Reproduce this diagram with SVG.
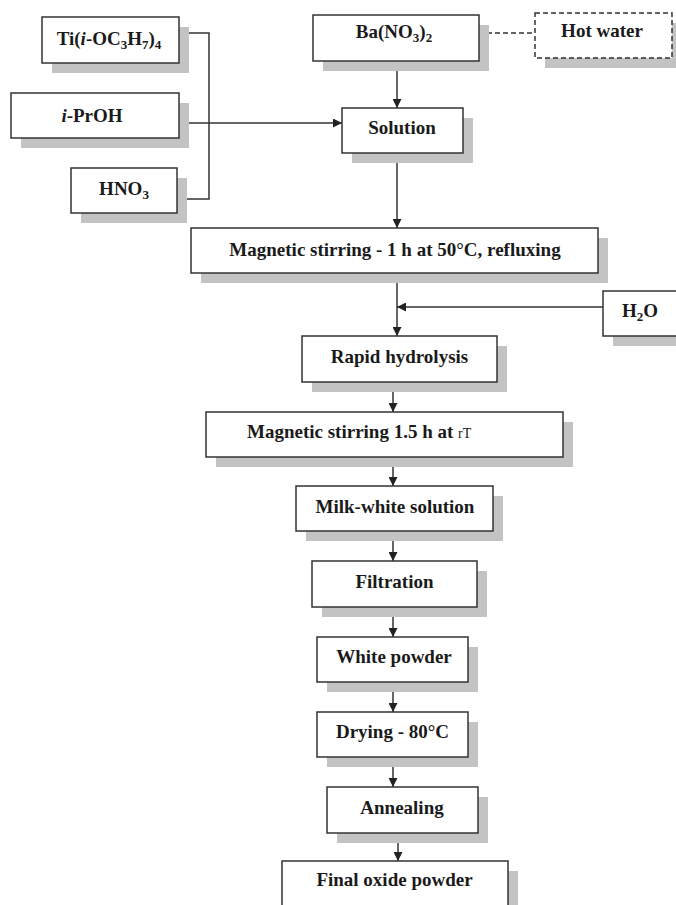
<svg xmlns="http://www.w3.org/2000/svg" width="676" height="905" viewBox="0 0 676 905">
<style>
.sh{fill:#c3c3c3;stroke:none}
.bx{fill:#fff;stroke:#333;stroke-width:1.5}
.dash{stroke-dasharray:5 3}
.t{font-family:'Liberation Serif','Times New Roman',serif;font-size:19px;font-weight:bold;fill:#1a1a1a;text-anchor:middle}
.ts{text-anchor:start}
.c{fill:none;stroke:#333;stroke-width:1.5}
</style>
<defs>
<marker id="ah" viewBox="0 0 10 10" refX="10" refY="5" markerWidth="9" markerHeight="9" markerUnits="userSpaceOnUse" orient="auto">
<path d="M0,0 L10,5 L0,10 z" fill="#222"/>
</marker>
</defs>
<rect width="676" height="905" fill="#fff"/>

<g id="connectors">
<polyline class="c" points="179,33 209,33 209,199 177,199"/>
<line class="c" x1="179" y1="123" x2="342" y2="123" marker-end="url(#ah)"/>
<line class="c dash" x1="479" y1="33" x2="535" y2="33"/>
<line class="c" x1="397" y1="61" x2="397" y2="108" marker-end="url(#ah)"/>
<line class="c" x1="397" y1="153" x2="397" y2="228" marker-end="url(#ah)"/>
<line class="c" x1="397" y1="273" x2="397" y2="336" marker-end="url(#ah)"/>
<line class="c" x1="603" y1="307" x2="397" y2="307" marker-end="url(#ah)"/>
<line class="c" x1="393" y1="382" x2="393" y2="412" marker-end="url(#ah)"/>
<line class="c" x1="393" y1="457" x2="393" y2="486" marker-end="url(#ah)"/>
<line class="c" x1="393" y1="531" x2="393" y2="561" marker-end="url(#ah)"/>
<line class="c" x1="393" y1="607" x2="393" y2="637" marker-end="url(#ah)"/>
<line class="c" x1="393" y1="682" x2="393" y2="712" marker-end="url(#ah)"/>
<line class="c" x1="393" y1="757" x2="393" y2="787" marker-end="url(#ah)"/>
<line class="c" x1="398" y1="833" x2="398" y2="861" marker-end="url(#ah)"/>
</g>

<g id="ti">
<rect class="sh" x="52" y="27" width="137" height="46"/>
<rect class="bx" x="42" y="17" width="137" height="46"/>
<text class="t" x="109" y="45">Ti(<tspan font-style="italic">i</tspan>-OC<tspan font-size="13" dy="4">3</tspan><tspan dy="-4">H</tspan><tspan font-size="13" dy="4">7</tspan><tspan dy="-4">)</tspan><tspan font-size="13" dy="4">4</tspan></text>
</g>
<g id="iproh">
<rect class="sh" x="21" y="103" width="168" height="45"/>
<rect class="bx" x="11" y="93" width="168" height="45"/>
<text class="t" x="92" y="122"><tspan font-style="italic">i</tspan>-PrOH</text>
</g>
<g id="hno3">
<rect class="sh" x="81" y="178" width="106" height="45"/>
<rect class="bx" x="71" y="168" width="106" height="45"/>
<text class="t" x="124" y="195">HNO<tspan font-size="13" dy="4">3</tspan></text>
</g>
<g id="ba">
<rect class="sh" x="323" y="25" width="166" height="46"/>
<rect class="bx" x="313" y="15" width="166" height="46"/>
<text class="t" x="394" y="38">Ba(NO<tspan font-size="13" dy="4">3</tspan><tspan dy="-4">)</tspan><tspan font-size="13" dy="4">2</tspan></text>
</g>
<g id="hotwater">
<rect class="sh" x="545" y="23" width="137" height="45"/>
<rect class="bx dash" x="535" y="13" width="137" height="45"/>
<text class="t" x="602" y="37">Hot water</text>
</g>
<g id="solution">
<rect class="sh" x="352" y="118" width="121" height="45"/>
<rect class="bx" x="342" y="108" width="121" height="45"/>
<text class="t" x="402" y="134">Solution</text>
</g>
<g id="mag1">
<rect class="sh" x="201" y="238" width="407" height="45"/>
<rect class="bx" x="191" y="228" width="407" height="45"/>
<text class="t" x="395" y="256">Magnetic stirring - 1 h at 50°C, refluxing</text>
</g>
<g id="h2o">
<rect class="sh" x="613" y="301" width="80" height="45"/>
<rect class="bx" x="603" y="291" width="80" height="45"/>
<text class="t" x="640" y="317">H<tspan font-size="13" dy="4">2</tspan><tspan dy="-4">O</tspan></text>
</g>
<g id="rapid">
<rect class="sh" x="312" y="346" width="195" height="46"/>
<rect class="bx" x="302" y="336" width="195" height="46"/>
<text class="t" x="399.5" y="363">Rapid hydrolysis</text>
</g>
<g id="mag15">
<rect class="sh" x="216" y="422" width="357" height="45"/>
<rect class="bx" x="206" y="412" width="357" height="45"/>
<text class="t ts" x="247" y="438">Magnetic stirring 1.5 h at <tspan font-size="14" font-weight="normal">rT</tspan></text>
</g>
<g id="milk">
<rect class="sh" x="306" y="496" width="197" height="45"/>
<rect class="bx" x="296" y="486" width="197" height="45"/>
<text class="t" x="395" y="513">Milk-white solution</text>
</g>
<g id="filtration">
<rect class="sh" x="322" y="571" width="165" height="46"/>
<rect class="bx" x="312" y="561" width="165" height="46"/>
<text class="t" x="394.5" y="588">Filtration</text>
</g>
<g id="white">
<rect class="sh" x="327" y="647" width="151" height="45"/>
<rect class="bx" x="317" y="637" width="151" height="45"/>
<text class="t" x="394" y="663">White powder</text>
</g>
<g id="drying">
<rect class="sh" x="327" y="722" width="151" height="45"/>
<rect class="bx" x="317" y="712" width="151" height="45"/>
<text class="t" x="392.5" y="738">Drying - 80°C</text>
</g>
<g id="annealing">
<rect class="sh" x="337" y="797" width="151" height="46"/>
<rect class="bx" x="327" y="787" width="151" height="46"/>
<text class="t" x="402" y="814">Annealing</text>
</g>
<g id="final">
<rect class="sh" x="292" y="871" width="226" height="60"/>
<rect class="bx" x="282" y="861" width="226" height="60"/>
<text class="t" x="394.5" y="886">Final oxide powder</text>
</g>
</svg>
